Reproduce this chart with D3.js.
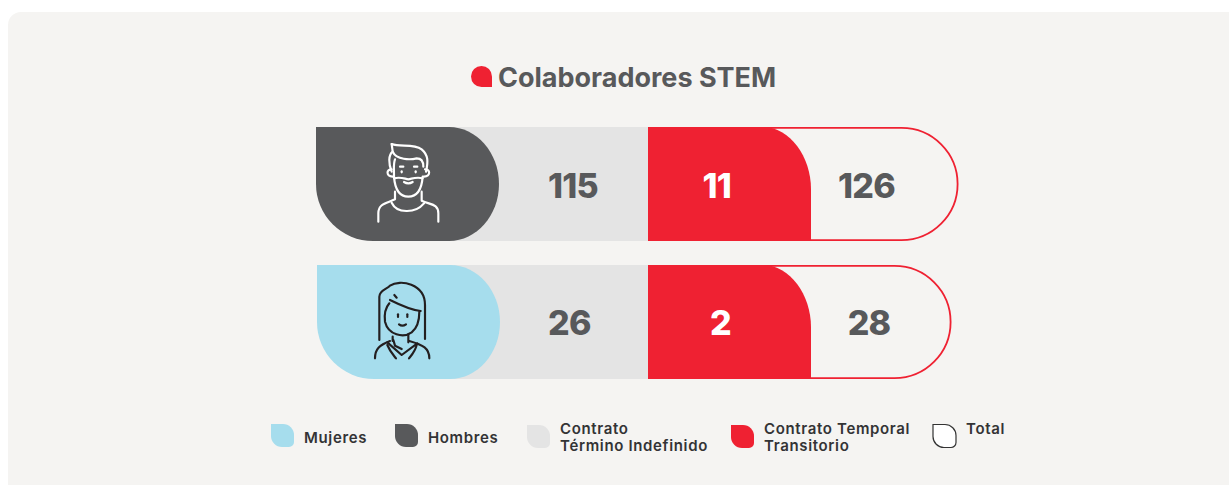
<!DOCTYPE html>
<html lang="es"><head><meta charset="utf-8">
<script src="https://cdn.jsdelivr.net/npm/d3@7"></script>
<style>html,body{margin:0;padding:0;background:#fff;overflow:hidden}svg{display:block;font-family:Inter,sans-serif}</style>
</head><body><svg id="c" width="1229" height="485"></svg>
<script>
const title = "Colaboradores STEM";
const categories = ["Hombres", "Mujeres"];
const indefinido = [115, 26];
const temporal = [11, 2];
const totals = [126, 28];
const legendLabels = [["Mujeres"], ["Hombres"], ["Contrato", "Término Indefinido"], ["Contrato Temporal", "Transitorio"], ["Total"]];

const colors = {panel:"#f5f4f2", dark:"#58595b", blue:"#a6dded", grey:"#e4e4e4", red:"#ef2132", ink:"#333335"};
const svg = d3.select("#c");

// panel
svg.append("rect").attr("x",8).attr("y",12).attr("width",1240).attr("height",500).attr("rx",13).attr("fill",colors.panel);

// title
svg.append("path").attr("transform","translate(471,66)").attr("fill",colors.red)
  .attr("d","M10.5,0 A10.5,10.5 0 0 1 21,10.5 V21 H10.5 A10.5,10.5 0 0 1 10.5,0 Z");
svg.append("text").attr("x",498).attr("y",87).attr("font-size",27).attr("font-weight",700)
  .attr("letter-spacing",0).attr("fill",colors.dark).text(title);

// scales
const y = d3.scaleBand().domain(categories).range([127,379]).paddingInner(24/138);
const h = y.bandwidth();
const outlineEnd = d3.scaleLinear().domain([28,126]).range([951.5,958.5]);
const outlineStart = d3.scaleLinear().domain([2,11]).range([715,735]);
const iconLeft = d3.scaleOrdinal().domain(categories).range([316,317]);

function leftShape(x0,x1,yy,hh){const r=hh/2, rx=50;
  return `M${x0},${yy} H${x1-rx} C${x1-rx*0.45},${yy} ${x1},${yy+r*0.45} ${x1},${yy+r} C${x1},${yy+r*1.55} ${x1-rx*0.45},${yy+hh} ${x1-rx},${yy+hh} H${x0+r} A${r},${r} 0 0 1 ${x0},${yy+hh-r} Z`;}

const rows = svg.selectAll("g.row").data(categories).join("g").attr("class","row");
rows.each(function(cat,i){
  const g = d3.select(this), t = y(cat);
  // total outline
  const xs = outlineStart(temporal[i]), xe = outlineEnd(totals[i]), r=(h-1.8)/2;
  g.append("path").attr("fill","none").attr("stroke",colors.red).attr("stroke-width",1.8)
    .attr("d",`M${xs},${t+0.9} H${xe-r-0.9} A${r},${r} 0 0 1 ${xe-r-0.9},${t+h-0.9} H${xs}`);
  // indefinido (starts behind the pill so its rounded corner stays clear)
  g.append("rect").attr("x",420).attr("y",t).attr("width",228).attr("height",h).attr("fill",colors.grey);
  // temporal
  g.append("path").attr("fill",colors.red)
    .attr("d",`M648,${t} H763 C790,${t} 811,${t+30} 811,${t+62} V${t+h} H648 Z`);
  // icon pill
  g.append("path").attr("fill",i===0?colors.dark:colors.blue).attr("d",leftShape(iconLeft(cat),i===0?499:500,t,h));
});

const numBase = d => y(d)+h/2+13;
const numStyle = s => s.attr("font-size",34).attr("font-weight",800).attr("letter-spacing",-0.8);
numStyle(svg.append("g").selectAll("text").data(categories).join("text"))
  .attr("x",548).attr("y",(d,i)=>numBase(d)+(i===0?1:0)).attr("fill",colors.dark).text((d,i)=>indefinido[i]);
numStyle(svg.append("g").selectAll("text").data(categories).join("text"))
  .attr("x",731).attr("y",(d,i)=>numBase(d)+(i===0?1:0)).attr("text-anchor","end").attr("fill","#fff").text((d,i)=>temporal[i]);
numStyle(svg.append("g").selectAll("text").data(categories).join("text"))
  .attr("x",(d,i)=>i===0?866.5:869).attr("y",(d,i)=>numBase(d)+(i===0?1:0)).attr("text-anchor","middle").attr("fill",colors.dark).text((d,i)=>totals[i]);

// icons (drawn in 3x crop units)
const man = ["M275,102 C300,112 340,100 365,118 C385,135 385,155 378,185","M275,102 L278,125 C265,135 265,160 275,185",
"M278,125 C290,150 330,150 350,145 C362,145 370,150 370,170","M285,148 C280,160 282,170 282,200",
"M275,178 C258,178 258,198 278,200","M375,178 C392,178 392,198 372,200",
"M282,200 C285,240 300,260 325,260 C350,260 365,240 368,200","M282,205 C300,200 310,205 325,208 C340,205 350,200 368,205",
"M312,216 Q325,224 338,216","M300,170 H310","M342,170 H352","M305,184 V187","M347,184 V187",
"M285,245 V268 C260,280 235,280 235,310 V335","M365,245 V272 C390,285 415,280 415,310 V335","M275,278 C290,310 345,312 372,280"];
const woman = ["M238,255 V125 C238,105 262,102 270,92 C300,72 375,85 375,150 V252","M283,120 L290,128","M270,135 C300,150 330,165 362,168",
"M268,145 C255,160 252,175 255,200 C265,240 310,250 335,232 C350,220 358,195 358,170","M294,178 V186","M322,178 V186","M297,208 Q307,216 318,208",
"M278,245 V258","M325,238 V262","M262,262 L305,300 L352,265","M280,255 L285,272 L305,282","M225,310 C225,280 240,270 270,258","M388,310 C388,280 370,270 328,258",
"M262,270 C270,290 280,300 288,310","M350,270 C345,290 335,300 327,310"];
[[man,"#fff",110],[woman,"#231f20",255]].forEach(([ps,c,ty])=>{
  svg.append("g").attr("transform",`translate(300,${ty}) scale(${1/3})`).attr("fill","none").attr("stroke",c)
    .attr("stroke-width",6.5).attr("stroke-linecap","round").attr("stroke-linejoin","round")
    .selectAll("path").data(ps).join("path").attr("d",d=>d);
});

// legend
const legendX = [271,395,527,731,933], legendTextX=[304,428,560,764,966];
const legendFill=[colors.blue,colors.dark,colors.grey,colors.red,"#fff"];
const legendY=[424,424,425,425,424.5];
const lg = svg.append("g").selectAll("g").data(legendLabels).join("g");
lg.append("path").attr("transform",(d,i)=>`translate(${legendX[i]},${legendY[i]})`)
  .attr("fill",(d,i)=>legendFill[i]).attr("stroke",(d,i)=>i===4?"#333":"none").attr("stroke-width",1.2)
  .attr("d","M0,0 H12 A11,11 0 0 1 23,11 V18 A5,5 0 0 1 18,23 H11 A11,11 0 0 1 0,12 Z");
lg.each(function(d,i){
  const two=d.length>1;
  d3.select(this).selectAll("text").data(d).join("text").attr("x",legendTextX[i])
    .attr("y",(s,j)=> i===4?434 : two? 434+j*17 : 443).attr("font-size",15).attr("font-weight",600)
    .attr("letter-spacing",0.65).attr("fill",colors.ink).text(s=>s);
});
</script></body></html>
